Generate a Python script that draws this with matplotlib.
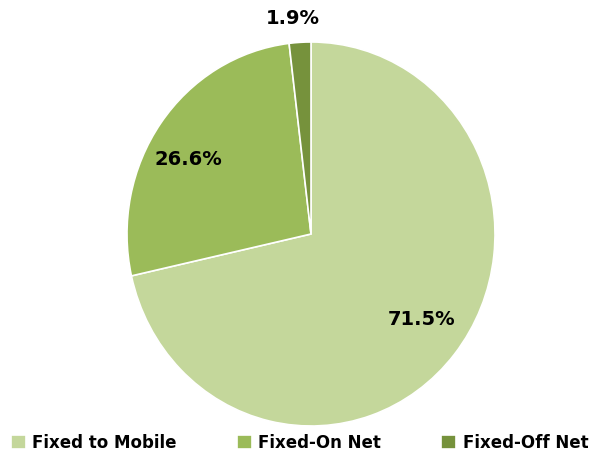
import matplotlib
matplotlib.use("Agg")
import matplotlib.pyplot as plt
import numpy as np

labels = ["Fixed to Mobile", "Fixed-On Net", "Fixed-Off Net"]
values = [71.5, 26.6, 1.9]
colors = ["#C4D79B", "#9BBB59", "#76923C"]

fig = plt.figure(figsize=(5.99, 4.56), dpi=100)
W, H = 599, 456
cx, cy, rx, ry = 311, 235, 184, 192
ax = fig.add_axes([(cx - rx) / W, (H - cy - ry) / H, 2 * rx / W, 2 * ry / H])

wedges, texts, autotexts = ax.pie(
    values, colors=colors, startangle=90, counterclock=False,
    autopct="%.1f%%", pctdistance=0.77, radius=1,
    wedgeprops=dict(edgecolor="white", linewidth=1.2),
    textprops=dict(fontsize=14, fontweight="bold", color="#000000"),
)
# nudge labels to where the original puts them
nudges = [(0.0, 0.04), (-0.04, -0.05), (-0.03, 0.0)]
dists = [0.77, 0.77, 1.13]
for w, t, d, (nx, ny) in zip(wedges, autotexts, dists, nudges):
    mid = np.deg2rad((w.theta1 + w.theta2) / 2)
    t.set_position((d * np.cos(mid) + nx, d * np.sin(mid) + ny))
ax.set_xlim(-1, 1)
ax.set_ylim(-1, 1)
ax.set_aspect("auto")

fig.legend(wedges, labels, loc="lower center", ncol=3, frameon=False,
           bbox_to_anchor=(0.5, -0.025), handlelength=0.9, handleheight=0.9,
           handletextpad=0.4, columnspacing=3.6,
           prop=dict(size=12, weight="bold"))

fig.savefig("out.png", dpi=100)
